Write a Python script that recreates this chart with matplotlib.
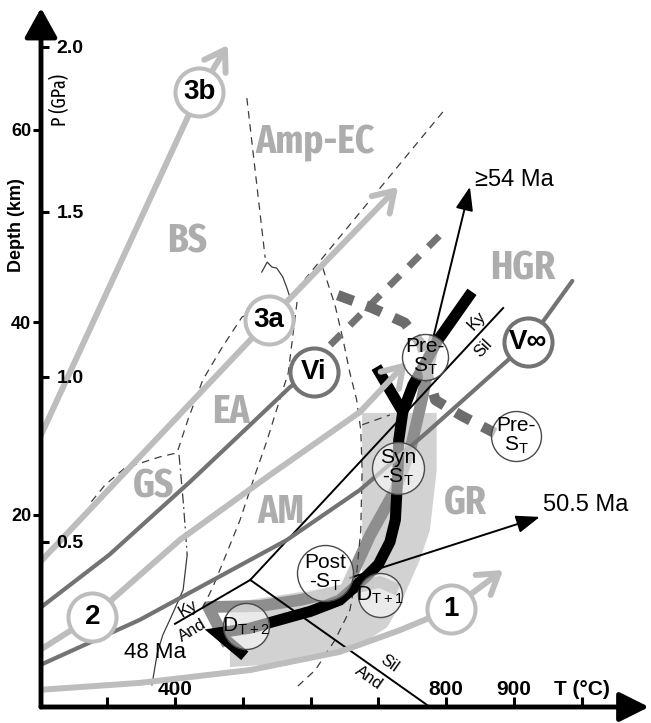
import matplotlib
matplotlib.use('Agg')
import matplotlib.pyplot as plt
from matplotlib.patches import Polygon
from matplotlib import font_manager as fm

plt.rcParams['font.family'] = ['Liberation Sans', 'DejaVu Sans']
plt.rcParams['mathtext.default'] = 'regular'

# ---------------- data (T in degC, P in GPa) ----------------
T_RANGE = (202.4, 1099.1)
P_RANGE = (0.0, 2.118)
KM_PER_GPA = 34.3

x_ticks = [300, 400, 500, 600, 700, 800, 900, 1000]
x_tick_labels = ['', '400', '', '', '', '800', '900', 'T (°C)']
p_ticks = [0.5, 1.0, 1.5, 2.0]
p_tick_labels = ['0.5', '1.0', '1.5', '2.0']
depth_ticks = [20, 40, 60]

# numbered geotherms
geo3b_T = [201, 436, 478]
geo3b_P = [0.818, 1.864, 2.006]
geo3a_T = [201, 539, 729]
geo3a_P = [0.439, 1.173, 1.576]
geo2_T = [201, 278, 407, 540, 673, 742]
geo2_P = [0.173, 0.273, 0.506, 0.703, 0.894, 1.045]
geo1_T = [201, 348, 511, 643, 732, 807, 884]
geo1_P = [0.052, 0.073, 0.112, 0.167, 0.233, 0.297, 0.415]
geoVi_T = [201, 303, 422, 511, 570, 605]
geoVi_P = [0.300, 0.461, 0.682, 0.855, 0.970, 1.015]
geoVi_ext_T = [629, 791]
geoVi_ext_P = [1.097, 1.430]
geoVinf_T = [201, 348, 565, 673, 772, 921, 986]
geoVinf_P = [0.127, 0.264, 0.506, 0.658, 0.833, 1.106, 1.291]

geo_labels = ['3b', '3a', '2', '1', 'Vi', 'V∞']
geo_label_T = [436, 539, 278, 807, 605, 921]
geo_label_P = [1.864, 1.173, 0.273, 0.297, 1.015, 1.106]

# granulite (GR) band outline
band_T = [676, 786, 786, 776, 761, 732, 713, 673, 614, 570, 481, 481, 584, 643, 676]
band_P = [0.891, 0.891, 0.718, 0.536, 0.445, 0.309, 0.242, 0.188, 0.158, 0.133, 0.121,
          0.315, 0.348, 0.370, 0.400]

# grey P-T path segments
grey_path1_T = [478, 449, 525, 584, 651, 702, 729]
grey_path1_P = [0.188, 0.303, 0.306, 0.324, 0.355, 0.379, 0.355]
grey_path2_T = [651, 688, 725, 747, 764, 776, 784]
grey_path2_P = [0.355, 0.521, 0.658, 0.779, 0.930, 1.052, 1.127]

# black P-T path
path_T = [838, 788, 751, 736, 730, 729, 725, 717, 700, 680, 643, 600, 570, 511, 463, 503]
path_P = [1.258, 1.112, 0.976, 0.894, 0.809, 0.718, 0.567, 0.500, 0.432, 0.391, 0.324, 0.290,
          0.273, 0.239, 0.224, 0.155]
path_arm_T = [697, 736]
path_arm_P = [1.030, 0.894]

# thick dashed reaction curve
react_T = [640, 691, 739, 764, 773, 784, 823, 872]
react_P = [1.248, 1.209, 1.164, 1.097, 1.006, 0.930, 0.882, 0.830]

# facies boundaries (thin dashed)
fb1_T = [506, 519, 533]
fb1_P = [1.845, 1.612, 1.361]
fb1w_T = [528, 536, 543, 550, 559, 565, 570]
fb1w_P = [1.318, 1.348, 1.333, 1.330, 1.303, 1.270, 1.239]
fb2_T = [580, 573, 567, 552, 536, 518, 496, 477, 456, 437]
fb2_P = [1.227, 1.112, 1.012, 0.915, 0.809, 0.703, 0.567, 0.470, 0.364, 0.285]
fb3_T = [795, 683, 570, 499, 469, 441, 419, 403, 378, 326, 297, 275]
fb3_P = [1.803, 1.524, 1.242, 1.182, 1.088, 0.991, 0.870, 0.770, 0.758, 0.724, 0.673, 0.618]
fb4_T = [618, 636, 648, 658, 668, 674, 676, 674, 668, 658, 636, 607, 580]
fb4_P = [1.330, 1.218, 1.112, 1.012, 0.930, 0.839, 0.718, 0.536, 0.406, 0.294, 0.203,
         0.112, 0.061]
fb5_T = [676, 717]
fb5_P = [0.855, 0.885]
sol_dd_T = [406, 412, 418]
sol_dd_P = [0.764, 0.627, 0.461]
sol_T = [418, 412, 397, 382, 374, 366]
sol_P = [0.461, 0.355, 0.285, 0.218, 0.164, 0.067]

# Al2SiO5 reactions
kysil_T = [511, 884]
kysil_P = [0.385, 1.209]
silAnd_T = [511, 776]
silAnd_P = [0.385, 0.0]
kyAnd_T = [400, 511]
kyAnd_P = [0.252, 0.385]

# stage circles
stage_text = ['Pre-\nS$_T$', 'Pre-\nS$_T$', 'Syn\n-S$_T$', 'Post\n-S$_T$', 'D$_{T+1}$', 'D$_{T+2}$']
stage_T = [769, 903, 729, 621, 702, 505]
stage_P = [1.061, 0.821, 0.724, 0.406, 0.339, 0.245]

# facies labels
facies = ['Amp-EC', 'BS', 'HGR', 'EA', 'GS', 'AM', 'GR']
facies_T = [606, 418, 913, 483, 368, 556, 828]
facies_P = [1.679, 1.376, 1.294, 0.861, 0.636, 0.558, 0.582]

# age arrows
age_labels = ['≥54 Ma', '50.5 Ma']
age_from_T = [780, 658]
age_from_P = [1.112, 0.391]
age_to_T = [835, 938]
age_to_P = [1.576, 0.576]
age_text_T = [843, 943]
age_text_P = [1.597, 0.612]

# ---------------- style ----------------
LIGHT = '#bdbdbd'
DARK = '#737373'
BAND = '#d2d2d2'
MID = '#8e8e8e'
FACIES = '#adadad'


def _num(v, table):
    if isinstance(v, str):
        return table.get(v, 500)
    return int(v)


def pick_condensed(min_weight):
    best = None
    for f in fm.fontManager.ttflist:
        if not f.fname.lower().endswith(('.ttf', '.otf')):
            continue
        if str(f.style) != 'normal':
            continue
        st = _num(f.stretch, fm.stretch_dict)
        if 'Narrow' in f.name or 'Condensed' in f.name or 'Condensed' in f.fname:
            st = min(st, 300)
        if 'ExtraCondensed' in f.fname or 'Extra Condensed' in f.name:
            st = min(st, 200)
        if 'SemiCondensed' in f.fname or 'Semi Condensed' in f.name:
            st = 400 if st >= 300 else st
        w = _num(f.weight, fm.weight_dict)
        if st > 400 or st < 200:
            continue
        if min_weight >= 700 and w < 700:
            continue
        if min_weight < 700 and (w < 400 or w > 500):
            continue
        key = (abs(st - 200), abs(w - min_weight))
        if best is None or key < best[0]:
            best = (key, f.fname, st)
    return best


_cb = pick_condensed(700)
_cr = pick_condensed(400)
if _cb is not None:
    FACIES_FP = dict(fontproperties=fm.FontProperties(fname=_cb[1]))
    FACIES_SIZE = {200: 29, 300: 26}.get(_cb[2], 24)
else:
    FACIES_FP = dict(family=['Liberation Sans', 'DejaVu Sans'], fontweight='bold')
    FACIES_SIZE = 22
if _cr is not None:
    PLAB_FP = dict(fontproperties=fm.FontProperties(fname=_cr[1]))
else:
    PLAB_FP = dict(family=['Liberation Sans', 'DejaVu Sans'])

fig = plt.figure(figsize=(6.51, 7.23), dpi=100)
ax = fig.add_axes([41 / 651, 16 / 723, 608 / 651, 699 / 723])
ax.set_xlim(*T_RANGE)
ax.set_ylim(*P_RANGE)
for s in ax.spines.values():
    s.set_visible(False)

# band
ax.add_patch(Polygon(list(zip(band_T, band_P)), closed=True, facecolor=BAND,
                     edgecolor='none', zorder=1))

# facies labels
for lab, t, p in zip(facies, facies_T, facies_P):
    tx = ax.text(t, p, lab, color=FACIES, ha='center', va='baseline', zorder=1.5, **FACIES_FP)
    tx.set_fontsize(FACIES_SIZE)

# grey paths
for T, P in [(grey_path1_T, grey_path1_P), (grey_path2_T, grey_path2_P)]:
    ax.plot(T, P, color=MID, lw=8.5, solid_capstyle='butt', solid_joinstyle='round', zorder=2)

# facies boundaries
thin = dict(color='#3c3c3c', lw=0.9, zorder=2.5)
for T, P in [(fb1_T, fb1_P), (fb2_T, fb2_P), (fb3_T, fb3_P), (fb4_T, fb4_P), (fb5_T, fb5_P)]:
    ax.plot(T, P, dashes=(6, 4.5), **thin)
ax.plot(fb1w_T, fb1w_P, **thin)
ax.plot(sol_dd_T, sol_dd_P, dashes=(8, 3, 1.5, 3), **thin)
ax.plot(sol_T, sol_P, **thin)

# black P-T path
ax.plot(path_T, path_P, color='black', lw=8, solid_capstyle='butt', solid_joinstyle='miter', zorder=3)
ax.plot(path_arm_T, path_arm_P, color='black', lw=8, solid_capstyle='butt', zorder=3)

# Al2SiO5 lines
for T, P in [(kysil_T, kysil_P), (silAnd_T, silAnd_P), (kyAnd_T, kyAnd_P)]:
    ax.plot(T, P, color='black', lw=1.4, zorder=3.5)
al_kw = dict(fontsize=12, ha='center', va='center', zorder=3.5)
ax.text(419, 0.297, 'Ky', rotation=31, **al_kw)
ax.text(425, 0.233, 'And', rotation=31, **al_kw)
ax.text(845, 1.170, 'Ky', rotation=47, **al_kw)
ax.text(855, 1.088, 'Sil', rotation=47, **al_kw)
ax.text(716, 0.130, 'Sil', rotation=-35, **al_kw)
ax.text(686, 0.088, 'And', rotation=-35, **al_kw)


# geotherms
def geotherm(T, P, color, arrow=True):
    if arrow:
        ax.plot(T[:-1], P[:-1], color=color, lw=4.3, solid_capstyle='round', zorder=4)
        ax.annotate('', xy=(T[-1], P[-1]), xytext=(T[-2], P[-2]), zorder=4,
                    arrowprops=dict(arrowstyle='->,head_length=0.7,head_width=0.45',
                                    color=color, lw=4.3, mutation_scale=20,
                                    shrinkA=0, shrinkB=0))
    else:
        ax.plot(T, P, color=color, lw=3.0, solid_capstyle='round', zorder=4)


geotherm(geo3b_T, geo3b_P, LIGHT)
geotherm(geo3a_T, geo3a_P, LIGHT)
geotherm(geo2_T, geo2_P, LIGHT)
geotherm(geo1_T, geo1_P, LIGHT)
geotherm(geoVi_T, geoVi_P, DARK, arrow=False)
geotherm(geoVinf_T, geoVinf_P, DARK, arrow=False)

# thick dashed lines
ax.plot(geoVi_ext_T, geoVi_ext_P, color=DARK, lw=5, dashes=(2.2, 1.8), dash_capstyle='butt', zorder=4.5)
ax.plot(react_T, react_P, color='#6c6c6c', lw=7.5, dashes=(1.6, 1.3), dash_capstyle='butt', zorder=4.5)

# age arrows
for lab, t0, p0, t1, p1, tt, tp in zip(age_labels, age_from_T, age_from_P, age_to_T, age_to_P,
                                       age_text_T, age_text_P):
    ax.annotate('', xy=(t1, p1), xytext=(t0, p0), zorder=6,
                arrowprops=dict(arrowstyle='-|>,head_length=0.8,head_width=0.3', color='black',
                                lw=1.4, mutation_scale=18, shrinkA=0, shrinkB=0))
    ax.text(tt, tp, lab, fontsize=17, ha='left', va='center', zorder=6)
ax.text(370, 0.164, '48 Ma', fontsize=16, ha='center', va='center', zorder=6)

# stage circles
stage_r = [23, 25, 26, 28, 22, 23]
for txt, t, p, r in zip(stage_text, stage_T, stage_P, stage_r):
    ax.plot(t, p, 'o', ms=2 * r * 0.72, mfc=(1, 1, 1, 0.55), mec='#4a4a4a', mew=1.0, zorder=7)
    ax.text(t, p, txt, fontsize=15, ha='center', va='center', linespacing=0.95, zorder=7.5)

# numbered circles
geo_edge = [LIGHT, LIGHT, LIGHT, LIGHT, DARK, DARK]
for lab, t, p, ec in zip(geo_labels, geo_label_T, geo_label_P, geo_edge):
    ax.plot(t, p, 'o', ms=34.6, mfc='white', mec=ec, mew=2.9, zorder=8)
    ax.text(t, p, lab, fontsize=20, fontweight='bold', ha='center', va='center', zorder=8.5)

# axes arrows
ax.annotate('', xy=(T_RANGE[1], 0), xytext=(T_RANGE[0], 0), annotation_clip=False, zorder=9,
            arrowprops=dict(arrowstyle='-|>,head_length=0.9,head_width=0.45', color='black',
                            lw=3.5, mutation_scale=20, shrinkA=0, shrinkB=0))
ax.annotate('', xy=(T_RANGE[0], P_RANGE[1]), xytext=(T_RANGE[0], 0), annotation_clip=False, zorder=9,
            arrowprops=dict(arrowstyle='-|>,head_length=0.9,head_width=0.5', color='black',
                            lw=3.5, mutation_scale=20, shrinkA=0, shrinkB=0))

# x ticks (inside)
ax.set_xticks(x_ticks)
ax.set_xticklabels(x_tick_labels, fontweight='bold', fontsize=15)
ax.tick_params(axis='x', direction='in', length=7, width=2.2, pad=-8.6)
for lab in ax.get_xticklabels():
    lab.set_va('baseline')

# depth ticks (outside left)
ax.set_yticks([d / KM_PER_GPA for d in depth_ticks])
ax.set_yticklabels([str(d) for d in depth_ticks], fontweight='bold', fontsize=13)
ax.tick_params(axis='y', direction='out', length=6, width=2.2, pad=1)
ax.set_ylabel('Depth (km)', fontweight='bold', fontsize=13)
ax.yaxis.set_label_coords(-0.0263, 0.6896)

# pressure ticks (inside left)
axp = ax.twinx()
axp.set_ylim(*P_RANGE)
for s in axp.spines.values():
    s.set_visible(False)
axp.yaxis.tick_left()
axp.set_yticks(p_ticks)
axp.set_yticklabels(p_tick_labels, fontweight='bold', fontsize=14)
axp.tick_params(axis='y', direction='in', length=6, width=2.2, pad=-11)
for lab in axp.get_yticklabels():
    lab.set_ha('left')
axp.yaxis.set_label_position('left')
yl = axp.set_ylabel('P (GPa)', **PLAB_FP)
yl.set_fontsize(14)
axp.yaxis.set_label_coords(0.0477, 0.868)

fig.savefig('out.png', dpi=100)
